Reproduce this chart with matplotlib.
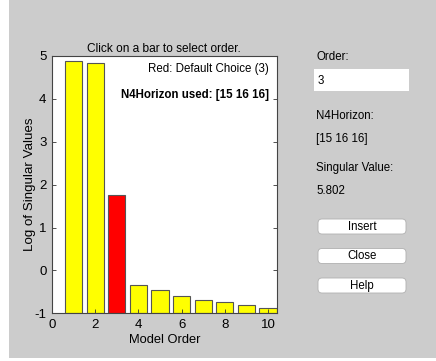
import matplotlib
matplotlib.use('Agg')
import matplotlib.pyplot as plt
from matplotlib.patches import Rectangle, FancyBboxPatch

plt.rcParams['font.family'] = ['Liberation Sans', 'DejaVu Sans']
plt.rcParams['axes.unicode_minus'] = False

# singular values (log) for each model order
orders = [1, 2, 3, 4, 5, 6, 7, 8, 9, 10]
log_sv = [4.89, 4.83, 1.758, -0.35, -0.45, -0.60, -0.70, -0.74, -0.80, -0.87]
default_order = 3
horizon = [15, 16, 16]
sv_selected = 5.802
buttons = ['Insert', 'Close', 'Help']

W, H = 436, 361
fig = plt.figure(figsize=(W / 100, H / 100), dpi=100, facecolor='white')

# background panel + controls drawn in pixel coords
bg = fig.add_axes([0, 0, 1, 1], zorder=0)
bg.set_xlim(0, W)
bg.set_ylim(H, 0)
bg.axis('off')
bg.add_patch(Rectangle((9, 0), W - 9, H - 3, facecolor='#cccccc', edgecolor='none'))

ax = fig.add_axes([52 / W, (H - 313.3) / H, 224.7 / W, 257.3 / H], zorder=1)
base = -1
colors = ['red' if o == default_order else 'yellow' for o in orders]
ax.bar(orders, [v - base for v in log_sv], bottom=base, width=0.8,
       color=colors, edgecolor='#555555', linewidth=0.8)
ax.set_xlim(0, 10.4)
ax.set_ylim(-1, 5)
ax.set_xticks(range(0, 11, 2))
ax.set_yticks(range(-1, 6))
ax.tick_params(direction='in', length=3, width=0.6, labelsize=9.5,
               right=True, colors='#333333', labelcolor='black', pad=4)
for s in ax.spines.values():
    s.set_color('#444444')
    s.set_linewidth(0.8)
ax.set_title('Click on a bar to select order.', fontsize=8.6, pad=3)
ax.set_xlabel('Model Order', fontsize=9.3, labelpad=2)
ax.set_ylabel('Log of Singular Values', fontsize=9.6, labelpad=-1)
ax.text(0.965, 0.95, 'Red: Default Choice (%d)' % default_order, transform=ax.transAxes,
        ha='right', va='center', fontsize=8.3)
ax.text(0.965, 0.85, 'N4Horizon used: [%s]' % ' '.join(str(h) for h in horizon),
        transform=ax.transAxes, ha='right', va='center', fontsize=8.3, fontweight='bold')

# right-hand panel
fs = 8.3
bg.text(316, 57, 'Order:', fontsize=fs, va='center')
bg.add_patch(Rectangle((314.3, 69.3), 95, 21.7, facecolor='white', edgecolor='none'))
bg.text(318, 80.5, str(default_order), fontsize=fs, va='center')
bg.text(316, 116, 'N4Horizon:', fontsize=fs, va='center')
bg.text(316, 139, '[%s]' % ' '.join(str(h) for h in horizon), fontsize=fs, va='center')
bg.text(316, 168, 'Singular Value:', fontsize=fs, va='center')
bg.text(316, 191, '%.3f' % sv_selected, fontsize=fs, va='center')

for i, name in enumerate(buttons):
    y0 = 219 + i * 29.5
    bg.add_patch(FancyBboxPatch((318, y0), 88, 15, boxstyle='round,pad=0,rounding_size=4',
                                facecolor='white', edgecolor='#b0b0b0', linewidth=0.6))
    bg.text(362, y0 + 7.5, name, fontsize=fs, ha='center', va='center')

fig.savefig('out.png', dpi=100, facecolor=fig.get_facecolor())
